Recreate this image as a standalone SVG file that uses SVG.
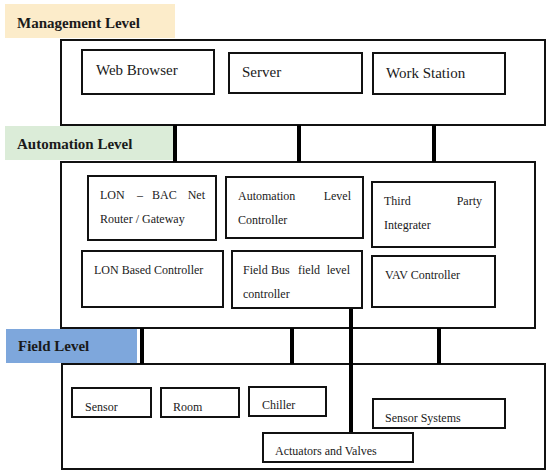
<svg xmlns="http://www.w3.org/2000/svg" width="550" height="475" viewBox="0 0 550 475">
<style>
  .outer { fill: #ffffff; stroke: #111111; stroke-width: 2; }
  .box { fill: #ffffff; stroke: #111111; stroke-width: 2; }
  .lvl { font-family: "Liberation Serif", "Times New Roman", serif; font-weight: bold; font-size: 15px; fill: #1a1a1a; }
  .t15 { font-family: "Liberation Serif", "Times New Roman", serif; font-size: 15px; fill: #1a1a1a; }
  .t12 { font-family: "Liberation Serif", "Times New Roman", serif; font-size: 12px; fill: #1a1a1a; }
  .conn { stroke: #000000; stroke-width: 4; fill: none; }
</style>
<rect x="0" y="0" width="550" height="475" fill="#ffffff"/>

<!-- Level labels -->
<g id="label-management">
  <rect x="5" y="4" width="170" height="34" fill="#fcecca"/>
  <text class="lvl" x="17" y="28">Management Level</text>
</g>
<g id="label-automation">
  <rect x="5" y="126" width="168" height="34" fill="#dbecd8"/>
  <text class="lvl" x="17" y="149">Automation Level</text>
</g>
<g id="label-field">
  <rect x="6" y="329" width="131" height="34" fill="#7ea7dc"/>
  <text class="lvl" x="18" y="351">Field Level</text>
</g>

<!-- Outer containers -->
<g id="management-level">
  <rect class="outer" x="61" y="40" width="484" height="85"/>
</g>
<g id="automation-level">
  <rect class="outer" x="61" y="162" width="474" height="166"/>
</g>
<g id="field-level">
  <rect class="outer" x="62" y="364" width="483" height="105"/>
</g>

<!-- Connectors -->
<g id="connectors">
  <line class="conn" x1="175" y1="125" x2="175" y2="162"/>
  <line class="conn" x1="299" y1="125" x2="299" y2="162"/>
  <line class="conn" x1="434" y1="125" x2="434" y2="162"/>
  <line class="conn" x1="142" y1="328" x2="142" y2="364"/>
  <line class="conn" x1="292" y1="328" x2="292" y2="364"/>
  <line class="conn" x1="439" y1="328" x2="439" y2="364"/>
  <line class="conn" x1="351" y1="308" x2="351" y2="433"/>
</g>

<!-- Management nodes -->
<g id="web-browser">
  <rect class="box" x="82" y="50" width="132" height="44"/>
  <text class="t15" x="96" y="75">Web Browser</text>
</g>
<g id="server">
  <rect class="box" x="229" y="53" width="133" height="40"/>
  <text class="t15" x="242" y="77">Server</text>
</g>
<g id="work-station">
  <rect class="box" x="373" y="53" width="132" height="41"/>
  <text class="t15" x="386" y="78">Work Station</text>
</g>

<!-- Automation nodes -->
<g id="lon-bacnet-router">
  <rect class="box" x="88" y="176" width="128" height="64"/>
  <text class="t12" x="100" y="199">LON</text>
  <text class="t12" x="137" y="199">–</text>
  <text class="t12" x="152" y="199">BAC</text>
  <text class="t12" x="205" y="199" text-anchor="end">Net</text>
  <text class="t12" x="100" y="223">Router / Gateway</text>
</g>
<g id="automation-level-controller">
  <rect class="box" x="226" y="177" width="137" height="61"/>
  <text class="t12" x="238" y="200">Automation</text>
  <text class="t12" x="351" y="200" text-anchor="end">Level</text>
  <text class="t12" x="238" y="224">Controller</text>
</g>
<g id="third-party-integrater">
  <rect class="box" x="372" y="182" width="123" height="65"/>
  <text class="t12" x="384" y="205">Third</text>
  <text class="t12" x="482" y="205" text-anchor="end">Party</text>
  <text class="t12" x="384" y="229">Integrater</text>
</g>
<g id="lon-based-controller">
  <rect class="box" x="82" y="251" width="141" height="56"/>
  <text class="t12" x="94" y="274">LON Based Controller</text>
</g>
<g id="field-bus-controller">
  <rect class="box" x="232" y="251" width="130" height="57"/>
  <text class="t12" x="243" y="274">Field</text>
  <text class="t12" x="271" y="274">Bus</text>
  <text class="t12" x="298" y="274">field</text>
  <text class="t12" x="350" y="274" text-anchor="end">level</text>
  <text class="t12" x="243" y="298">controller</text>
</g>
<g id="vav-controller">
  <rect class="box" x="372" y="256" width="123" height="51"/>
  <text class="t12" x="385" y="279">VAV Controller</text>
</g>

<!-- Field nodes -->
<g id="sensor">
  <rect class="box" x="72" y="388" width="79" height="29"/>
  <text class="t12" x="85" y="411">Sensor</text>
</g>
<g id="room">
  <rect class="box" x="161" y="388" width="78" height="29"/>
  <text class="t12" x="173" y="411">Room</text>
</g>
<g id="chiller">
  <rect class="box" x="249" y="387" width="77" height="29"/>
  <text class="t12" x="262" y="409">Chiller</text>
</g>
<g id="sensor-systems">
  <rect class="box" x="373" y="399" width="132" height="29"/>
  <text class="t12" x="385" y="422">Sensor Systems</text>
</g>
<g id="actuators-valves">
  <rect class="box" x="263" y="433" width="150" height="29"/>
  <text class="t12" x="275" y="455">Actuators and Valves</text>
</g>
</svg>
